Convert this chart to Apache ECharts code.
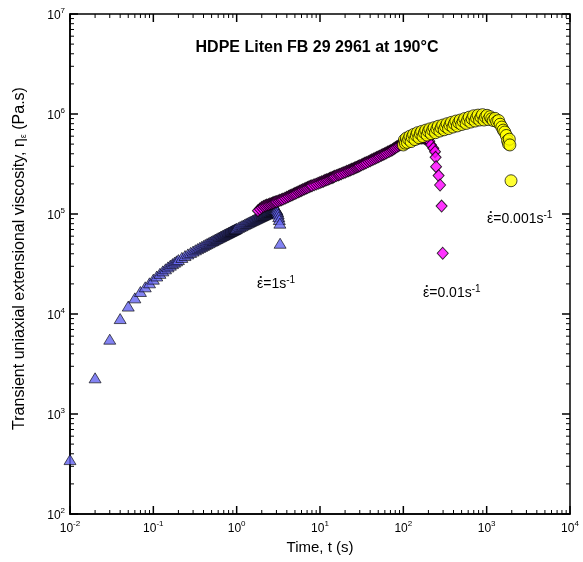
<!DOCTYPE html>
<html><head><meta charset="utf-8">
<script src="https://cdn.jsdelivr.net/npm/echarts@6/dist/echarts.min.js"></script>
<style>html,body{margin:0;padding:0;background:#fff}#c{width:583px;height:562px}</style>
</head><body><div id="c"></div>
<script>
// ---- strain rate 1 s^-1 (triangles)
const rate1Time = [0.01,0.02,0.03,0.04,0.05,0.06,0.07,0.08,0.09,0.10,0.11,0.12,0.13,0.14,0.15,0.16,0.17,0.18,0.19,0.20,
0.22,0.24,0.26,0.28,0.30,0.32,0.34,0.36,0.38,0.40,0.42,0.44,0.46,0.48,0.50,0.52,0.54,0.56,0.58,0.60,
0.62,0.64,0.66,0.68,0.70,0.72,0.74,0.76,0.78,0.80,0.82,0.84,0.86,0.88,0.90,0.92,0.94,0.96,0.98,1.00,
1.05,1.10,1.15,1.20,1.25,1.30,1.35,1.40,1.45,1.50,1.55,1.60,1.65,1.70,1.75,1.80,1.85,1.90,1.95,2.00,
2.05,2.10,2.15,2.20,2.25,2.30,2.35,2.40,2.45,2.50,2.55,2.60,2.65,2.70,2.75,2.80,2.85,2.90,2.95,3.00,
3.05,3.10,3.15,3.20,3.25,3.30,3.32];
const rate1Visc = [350,2300,5600,9000,12000,14500,16800,18700,20500,22300,24000,25500,27000,28300,29600,30800,31900,33000,34000,35000,
36800,38400,39900,41300,42600,43900,45100,46300,47400,48500,49600,50600,51600,52600,53500,54400,55300,56200,57000,57900,
58700,59500,60300,61100,61800,62600,63300,64000,64700,65400,66100,66800,67500,68100,68800,69400,70000,70700,71300,71900,
73400,74900,76300,77700,79000,80300,81600,82800,84000,85200,86400,87500,88600,89700,90700,91800,92800,93800,94800,95700,
96700,97600,98500,99400,100300,101200,102000,102900,103700,104500,105300,106100,106900,107700,108400,109200,109900,110600,111000,111300,
109000,105000,100000,94000,88000,81000,51000];

// ---- strain rate 0.01 s^-1 (diamonds)
const rate001Time = [1.8,1.9,2.0,2.1,2.2,2.3,2.4,2.5,2.6,2.7,2.8,2.9,3.0,3.15,3.3,3.45,3.6,3.8,4.0,4.2,
4.4,4.6,4.8,5.0,5.2,5.45,5.7,5.95,6.2,6.5,6.8,7.1,7.4,7.7,8.0,8.5,9.0,9.5,10,10.5,
11,11.5,12,12.5,13,13.5,14,14.5,15,15.7,16.5,17.2,18,19,20,21,22,23,24,25,
26,27,28,29,30,31.5,33,34.5,36,38,40,42,44,46,48,50,52,54.5,57,59.5,
62,65,68,71,74,77,80,83.5,87,90.5,94,97,100,105,110,115,120,125,130,135,
140,145,150,158,165,172,180,188,195,205,
215,229,240,244,247,265,276,288,297];
const rate001Visc = [108000,112000,116000,119000,121000,123000,124000,126000,127000,129000,130000,132000,133000,135000,137000,139000,141000,144000,147000,150000,
153000,155000,158000,160000,163000,166000,169000,172000,175000,178000,181000,184000,187000,190000,192000,196000,199000,203000,206000,210000,
213000,217000,220000,222000,226000,229000,232000,235000,238000,242000,246000,249000,253000,258000,262000,267000,271000,276000,280000,283000,
288000,292000,296000,300000,304000,310000,316000,321000,327000,334000,341000,348000,354000,361000,367000,373000,379000,387000,394000,400000,
408000,416000,424000,431000,440000,450000,460000,470000,480000,490000,500000,508000,515000,522000,530000,538000,545000,550000,555000,560000,
565000,568000,570000,573000,575000,574000,570000,565000,555000,535000,
490000,454000,420000,369000,297000,242000,195000,120000,40500];

// ---- strain rate 0.001 s^-1 (circles)
const rate0001Time = [100,103,106,109,112,116,120,124,128,133,138,143,148,154,160,166,172,179,186,193,
200,208,216,225,234,243,253,263,274,285,297,309,322,335,349,363,378,394,410,427,
445,463,482,502,523,545,568,592,617,643,670,698,727,757,789,822,856,892,929,968,
1010,1050,1100,1150,1200,1260,1320,1390,1450,1520,1580,1650,1720,1780,1830,1870,1900,1960];
const rate0001Visc = [490000,550000,510000,575000,520000,560000,600000,530000,585000,625000,555000,610000,650000,580000,635000,670000,595000,650000,690000,615000,
670000,710000,635000,690000,730000,650000,710000,755000,675000,730000,775000,695000,750000,800000,715000,775000,825000,740000,800000,850000,
760000,820000,870000,785000,845000,900000,805000,870000,930000,830000,895000,960000,850000,915000,975000,870000,930000,985000,870000,935000,
970000,880000,940000,895000,860000,905000,840000,860000,790000,740000,690000,660000,610000,540000,500000,560000,490000,215000];

// ---- axes
const xMin = 0.01, xMax = 10000, yMin = 100, yMax = 1e7;
const xDecades = [-2,-1,0,1,2,3,4];
const yDecades = [2,3,4,5,6,7];
const titleText = 'HDPE Liten FB 29 2961 at 190°C';
const xName = 'Time, t (s)';
const annotations = [
  {rate:'1', x:257, y:283},
  {rate:'0.01', x:423, y:292},
  {rate:'0.001', x:487, y:218}
];

const FONT = 'Liberation Sans, Arial, sans-serif';

function supLabel(v){
  const e = Math.round(Math.log10(v));
  return '{b|10}{s|' + e + '}';
}
const labelRich = {
  b:{fontSize:12, fontFamily:FONT, color:'#000', verticalAlign:'bottom'},
  s:{fontSize:8, fontFamily:FONT, color:'#000', verticalAlign:'bottom', padding:[0,0,7,0]}
};

const xTickData = [], yTickData = [];
xDecades.forEach(e=>{
  xTickData.push([Math.pow(10,e), yMin, 8]);
  if (e < 4) for (let m=2;m<=9;m++) xTickData.push([m*Math.pow(10,e), yMin, 4]);
});
yDecades.forEach(e=>{
  yTickData.push([xMin, Math.pow(10,e), 8]);
  if (e < 7) for (let m=2;m<=9;m++) yTickData.push([xMin, m*Math.pow(10,e), 4]);
});

const annRich = {
  a:{fontSize:14, fontFamily:FONT, fill:'#000', verticalAlign:'bottom'},
  s:{fontSize:10, fontFamily:FONT, fill:'#000', verticalAlign:'bottom', padding:[0,0,6,0]}
};
const annGraphics = [];
annotations.forEach(a=>{
  annGraphics.push({type:'group', x:a.x, y:a.y, z:20, children:[
    {type:'text', style:{text:'{a|ε=' + a.rate + 's}{s|-1}', textVerticalAlign:'middle', rich:annRich}},
    {type:'circle', shape:{cx:3.8, cy:-6, r:1.1}, style:{fill:'#000'}}
  ]});
});

const chart = echarts.init(document.getElementById('c'), null, {renderer:'canvas'});
const option = {
  animation:false,
  backgroundColor:'#fff',
  grid:{left:70, top:14, width:500, height:500, show:true, borderColor:'#000', borderWidth:1.5, backgroundColor:'transparent'},
  xAxis:{
    type:'log', logBase:10, min:xMin, max:xMax,
    axisLine:{show:true, onZero:false, lineStyle:{color:'#000', width:1.5}},
    axisTick:{show:false},
    splitLine:{show:false},
    axisLabel:{formatter:supLabel, rich:labelRich, margin:6, color:'#000'},
    name:xName, nameLocation:'middle', nameGap:26,
    nameTextStyle:{fontSize:15, fontFamily:FONT, color:'#000'}
  },
  yAxis:{
    type:'log', logBase:10, min:yMin, max:yMax,
    axisLine:{show:true, onZero:false, lineStyle:{color:'#000', width:1.5}},
    axisTick:{show:false},
    splitLine:{show:false},
    axisLabel:{formatter:supLabel, rich:labelRich, margin:5, color:'#000'},
    name:'{n|Transient uniaxial extensional viscosity, η}{e|ε}{n| (Pa.s)}',
    nameLocation:'middle', nameGap:42, nameRotate:90,
    nameTextStyle:{fontSize:16, fontFamily:FONT, color:'#000', padding:[0,0,0,11],
      rich:{n:{fontSize:16, fontFamily:FONT, color:'#000', verticalAlign:'bottom'},
            e:{fontSize:9, fontFamily:FONT, color:'#000', verticalAlign:'bottom'}}}
  },
  series:[
    {type:'scatter', name:'1', data:rate1Time.map((t,i)=>[t,rate1Visc[i]]),
     symbol:'triangle', symbolSize:[12,10],
     itemStyle:{color:'#6464f0', borderColor:'#000', borderWidth:0.8}, z:2},
    {type:'scatter', name:'0.01', data:rate001Time.map((t,i)=>[t,rate001Visc[i]]),
     symbol:'diamond', symbolSize:[11,12],
     itemStyle:{color:'#ff00ff', borderColor:'#000', borderWidth:1}, z:3},
    {type:'scatter', name:'0.001', data:rate0001Time.map((t,i)=>[t,rate0001Visc[i]]),
     symbol:'circle', symbolSize:12,
     itemStyle:{color:'#ffff00', borderColor:'#000', borderWidth:0.9}, z:4},
    {type:'custom', silent:true, clip:false, z:10, data:xTickData,
     renderItem:function(p, api){
       const x = api.value(0), len = api.value(2);
       const b = api.coord([x, yMin]), t = api.coord([x, yMax]);
       const w = len > 5 ? 1.5 : 1;
       return {type:'group', children:[
         {type:'line', shape:{x1:b[0],y1:b[1],x2:b[0],y2:b[1]-len}, style:{stroke:'#000', lineWidth:w}},
         {type:'line', shape:{x1:t[0],y1:t[1],x2:t[0],y2:t[1]+len}, style:{stroke:'#000', lineWidth:w}}
       ]};
     }},
    {type:'custom', silent:true, clip:false, z:10, data:yTickData,
     renderItem:function(p, api){
       const y = api.value(1), len = api.value(2);
       const l = api.coord([xMin, y]), r = api.coord([xMax, y]);
       const w = len > 5 ? 1.5 : 1;
       return {type:'group', children:[
         {type:'line', shape:{x1:l[0],y1:l[1],x2:l[0]+len,y2:l[1]}, style:{stroke:'#000', lineWidth:w}},
         {type:'line', shape:{x1:r[0],y1:r[1],x2:r[0]-len,y2:r[1]}, style:{stroke:'#000', lineWidth:w}}
       ]};
     }}
  ],
  graphic:[
    {type:'text', x:317, y:48, z:20, style:{text:titleText, textAlign:'center', textVerticalAlign:'middle', font:'bold 16px '+FONT, fill:'#000'}}
  ].concat(annGraphics)
};
chart.setOption(option);
</script></body></html>
